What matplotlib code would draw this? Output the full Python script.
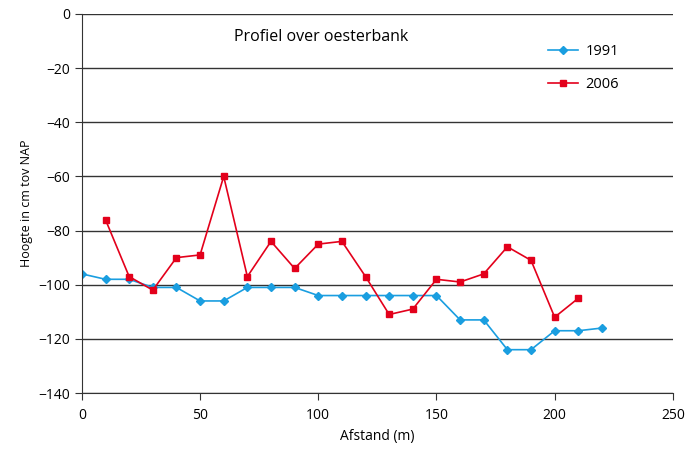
import matplotlib
matplotlib.use("Agg")
import matplotlib.pyplot as plt

plt.rcParams['font.family'] = ['Open Sans', 'DejaVu Sans']

# -- Data -------------------------------------------------------------
x_1991 = [0, 10, 20, 30, 40, 50, 60, 70, 80, 90, 100, 110, 120, 130, 140,
          150, 160, 170, 180, 190, 200, 210, 220]
y_1991 = [-96, -98, -98, -101, -101, -106, -106, -101, -101, -101, -104, -104,
          -104, -104, -104, -104, -113, -113, -124, -124, -117, -117, -116]

x_2006 = [10, 20, 30, 40, 50, 60, 70, 80, 90, 100, 110, 120, 130, 140, 150,
          160, 170, 180, 190, 200, 210]
y_2006 = [-76, -97, -102, -90, -89, -60, -97, -84, -94, -85, -84, -97, -111,
          -109, -98, -99, -96, -86, -91, -112, -105]

# -- Figure / Axes ----------------------------------------------------
fig = plt.figure(figsize=(6.88, 4.51), dpi=100)
ax = fig.add_axes([0.119, 0.1286, 0.859, 0.8404])

ax.plot(x_1991, y_1991, color="#1a9ee0", marker="D", markersize=4.5,
        linewidth=1.2, label="1991")
ax.plot(x_2006, y_2006, color="#e3001b", marker="s", markersize=5,
        linewidth=1.2, label="2006")

ax.set_xlim(0, 250)
ax.set_ylim(-140, 0)
ax.set_xticks(range(0, 251, 50))
ax.set_yticks(range(-140, 1, 20))
ax.yaxis.grid(True, color="#333333", linewidth=1.0)
ax.set_axisbelow(True)

for side in ("top", "right"):
    ax.spines[side].set_visible(False)
ax.spines["left"].set_color("#333333")
ax.spines["bottom"].set_color("#333333")
ax.tick_params(axis="both", labelsize=10, length=5, color="#333333")
ax.tick_params(axis="x", pad=6)

ax.set_xlabel("Afstand (m)", fontsize=10)
ax.set_ylabel("Hoogte in cm tov NAP", fontsize=9)
ax.text(0.405, 0.94, "Profiel over oesterbank", transform=ax.transAxes,
        ha="center", va="center", fontsize=11.5)

leg = ax.legend(loc="upper left", bbox_to_anchor=(0.788, 0.92), frameon=False,
                fontsize=10.5, labelspacing=1.2, handlelength=2.1,
                handletextpad=0.5, borderpad=0, borderaxespad=0)

fig.savefig("out.png", dpi=100)
